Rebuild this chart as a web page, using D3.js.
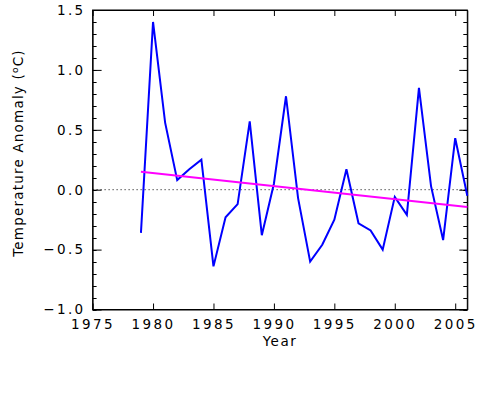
<!DOCTYPE html>
<html>
<head>
<meta charset="utf-8">
<script src="https://cdn.jsdelivr.net/npm/d3@7"></script>
<style>
  body { margin: 0; background: #fff; }
  svg text { font-family: "DejaVu Sans", sans-serif; fill: #000; }
</style>
</head>
<body>
<div id="chart"></div>
<script>
var width = 500;
var height = 400;

// annual temperature anomaly (deg C)
var years = [1979, 1980, 1981, 1982, 1983, 1984, 1985, 1986, 1987, 1988,
  1989, 1990, 1991, 1992, 1993, 1994, 1995, 1996, 1997, 1998,
  1999, 2000, 2001, 2002, 2003, 2004, 2005, 2006];
var anomaly = [-0.36, 1.40, 0.56, 0.08, 0.17, 0.25, -0.64, -0.23, -0.12, 0.57,
  -0.38, 0.05, 0.78, -0.07, -0.60, -0.46, -0.25, 0.17, -0.28, -0.34,
  -0.50, -0.06, -0.21, 0.85, 0.03, -0.42, 0.43, -0.05];
// linear trend end points
var trendYears = [1979, 2006];
var trendValues = [0.15, -0.145];

var xTicks = [1975, 1980, 1985, 1990, 1995, 2000, 2005];
var yTicks = [-1.0, -0.5, 0.0, 0.5, 1.0, 1.5];
var yMinorTicks = d3.range(-10, 16).map(function(d){ return d / 10; });

var margin = { top: 10, right: 32.7, bottom: 90.5, left: 92.6 };

var svg = d3.select("#chart").append("svg")
  .attr("width", width)
  .attr("height", height);

var x = d3.scaleLinear()
  .domain([1975, 2006])
  .range([margin.left, width - margin.right]);

var y = d3.scaleLinear()
  .domain([-1.0, 1.5])
  .range([height - margin.bottom, margin.top]);

var fmt = function(d){ return d3.format(".1f")(d).replace("-", "\u2212"); };

// zero reference line
svg.append("line")
  .attr("x1", x(1975)).attr("x2", x(2006))
  .attr("y1", y(0)).attr("y2", y(0))
  .attr("stroke", "#000")
  .attr("stroke-width", 1)
  .attr("stroke-dasharray", "1,3");

// minor y ticks, both sides
var g = svg.append("g");
g.selectAll(".minorL")
  .data(yMinorTicks)
  .enter().append("line")
    .attr("x1", x(1975)).attr("x2", x(1975) + 4)
    .attr("y1", function(d){ return Math.round(y(d)) + 0.5; })
    .attr("y2", function(d){ return Math.round(y(d)) + 0.5; })
    .attr("stroke", "#000");
g.selectAll(".minorR")
  .data(yMinorTicks)
  .enter().append("line")
    .attr("x1", x(2006)).attr("x2", x(2006) - 4)
    .attr("y1", function(d){ return Math.round(y(d)) + 0.5; })
    .attr("y2", function(d){ return Math.round(y(d)) + 0.5; })
    .attr("stroke", "#000");

// axes
var xAxis = d3.axisBottom(x).tickValues(xTicks).tickSizeInner(-6).tickSizeOuter(0)
  .tickFormat(d3.format("d"));
var xAxisTop = d3.axisTop(x).tickValues(xTicks).tickSizeInner(-6).tickSizeOuter(0)
  .tickFormat("");
var yAxis = d3.axisLeft(y).tickValues(yTicks).tickSizeInner(-9).tickSizeOuter(0)
  .tickFormat(fmt);
var yAxisRight = d3.axisRight(y).tickValues(yTicks).tickSizeInner(-8).tickSizeOuter(0)
  .tickFormat("");

var gx = svg.append("g")
  .attr("transform", "translate(0," + y(-1.0) + ")")
  .call(xAxis);
gx.selectAll("text")
  .attr("dy", null)
  .attr("y", 9)
  .attr("dominant-baseline", "hanging")
  .style("font-size", "13.5px")
  .style("letter-spacing", "2.4px");

svg.append("g")
  .attr("transform", "translate(0," + y(1.5) + ")")
  .call(xAxisTop);

var gy = svg.append("g")
  .attr("transform", "translate(" + x(1975) + ",0)")
  .call(yAxis);
gy.selectAll("text")
  .attr("x", -7)
  .style("font-size", "13.5px")
  .style("letter-spacing", "2.4px");

svg.append("g")
  .attr("transform", "translate(" + x(2006) + ",0)")
  .call(yAxisRight);

svg.selectAll(".domain").attr("stroke", "#000");
svg.selectAll(".tick line").attr("stroke", "#000");

// frame
svg.append("rect")
  .attr("x", x(1975)).attr("y", y(1.5))
  .attr("width", x(2006) - x(1975))
  .attr("height", y(-1.0) - y(1.5))
  .attr("fill", "none")
  .attr("stroke", "#000");

// data line
var line = d3.line()
  .x(function(d, i){ return x(years[i]); })
  .y(function(d){ return y(d); });

svg.append("path")
  .datum(anomaly)
  .attr("fill", "none")
  .attr("stroke", "#0000ff")
  .attr("stroke-width", 2)
  .attr("d", line);

// trend line
var trendLine = d3.line()
  .x(function(d, i){ return x(trendYears[i]); })
  .y(function(d){ return y(d); });

svg.append("path")
  .datum(trendValues)
  .attr("fill", "none")
  .attr("stroke", "#ff00ff")
  .attr("stroke-width", 2)
  .attr("d", trendLine);

// axis titles
svg.append("text")
  .attr("x", (x(1975) + x(2006)) / 2)
  .attr("y", 346)
  .attr("text-anchor", "middle")
  .style("font-size", "13.5px")
  .style("letter-spacing", "1.5px")
  .text("Year");

var yt = svg.append("text")
  .attr("transform", "translate(23," + 153 + ") rotate(-90)")
  .attr("text-anchor", "middle")
  .style("font-size", "13.5px")
  .style("letter-spacing", "1.2px");
yt.append("tspan").text("Temperature Anomaly (");
yt.append("tspan").attr("dy", -5).style("font-size", "9px").text("o");
yt.append("tspan").attr("dy", 5).text("C)");
</script>
</body>
</html>
